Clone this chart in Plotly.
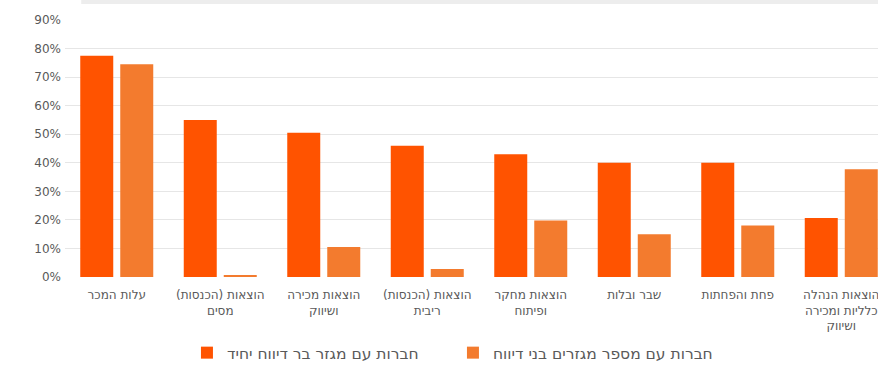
import plotly.graph_objects as go

categories = [
    "עלות המכר",
    "הוצאות (הכנסות)<br>מסים",
    "הוצאות מכירה<br>ושיווק",
    "הוצאות (הכנסות)<br>ריבית",
    "הוצאות מחקר<br>ופיתוח",
    "שבר ובלות",
    "פחת והפחתות",
    "הוצאות הנהלה<br>כלליות ומכירה<br>ושיווק",
]
single_segment = [0.775, 0.55, 0.505, 0.46, 0.43, 0.40, 0.40, 0.207]
multi_segment = [0.745, 0.005, 0.105, 0.028, 0.198, 0.15, 0.18, 0.377]
series_names = ["חברות עם מגזר בר דיווח יחיד", "חברות עם מספר מגזרים בני דיווח"]
y_ticks = [0, 0.1, 0.2, 0.3, 0.4, 0.5, 0.6, 0.7, 0.8, 0.9]

DARK = "#FF5300"
LIGHT = "#F37B2E"
FONT = "DejaVu Sans, Liberation Sans, sans-serif"

fig = go.Figure()
fig.add_trace(go.Bar(x=categories, y=single_segment, name=series_names[0],
                     marker=dict(color=DARK, line=dict(width=0))))
fig.add_trace(go.Bar(x=categories, y=multi_segment, name=series_names[1],
                     marker=dict(color=LIGHT, line=dict(width=0))))

fig.update_layout(
    width=878, height=373,
    margin=dict(l=65, r=0, t=20, b=96),
    paper_bgcolor="white", plot_bgcolor="white",
    barmode="group", bargap=0.227, bargroupgap=0.175,
    font=dict(family=FONT, size=11, color="#595959"),
    showlegend=True,
    legend=dict(orientation="h", x=0.15, xanchor="left", y=-0.296, yanchor="middle",
                font=dict(size=15.5, color="#595959"),
                entrywidth=221, entrywidthmode="pixels",
                itemsizing="constant"),
    xaxis=dict(range=[-0.5, 7.355], showgrid=False, zeroline=False, showline=False,
               ticks="", tickfont=dict(size=12, color="#595959"), ticklabelstandoff=9),
    yaxis=dict(range=[0, 0.9], tickvals=y_ticks, tickformat=".0%",
               showgrid=True, gridcolor="#E6E6E6", gridwidth=1, zeroline=False,
               showline=False, ticks="", tickfont=dict(size=12, color="#595959"),
               ticklabelstandoff=3),
    shapes=[dict(type="rect", xref="paper", yref="paper", x0=0.02, x1=1.0, y0=1.0 + 16/257,
                 y1=1.0 + 20/257, fillcolor="#EDEDED", line=dict(width=0), layer="below")],
)

fig.write_html("out.html")
